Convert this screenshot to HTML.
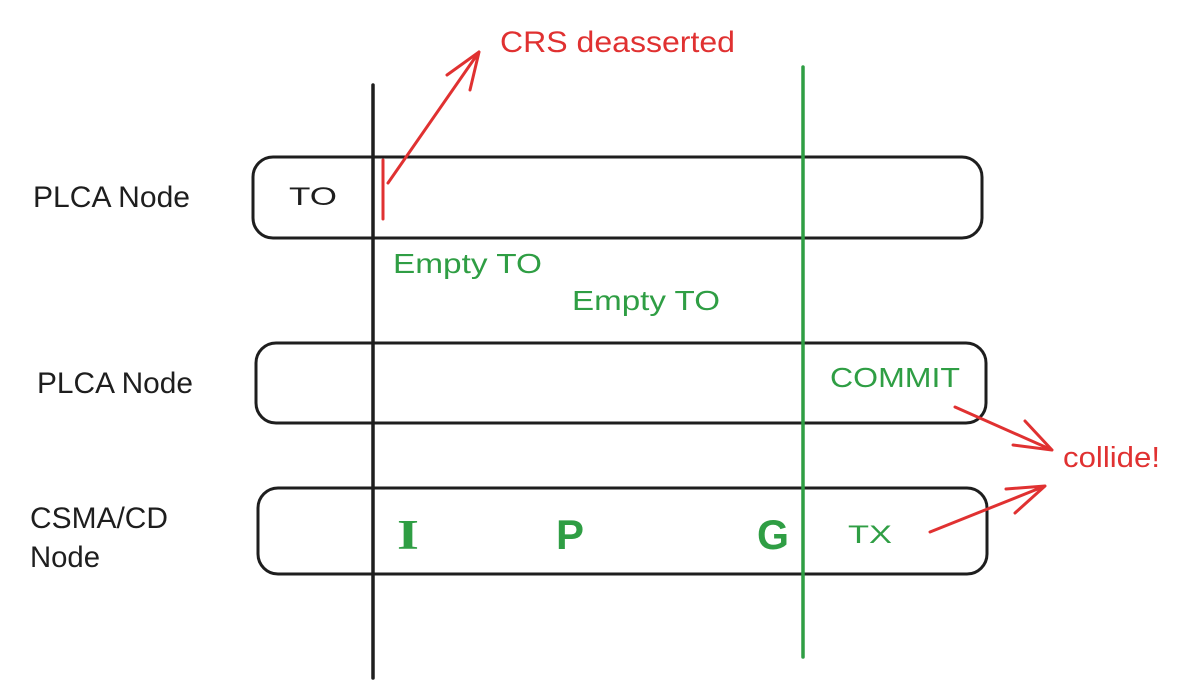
<!DOCTYPE html>
<html><head><meta charset="utf-8"><style>
html,body{margin:0;padding:0;background:#fff;}
svg{display:block;}
text{font-family:"Liberation Sans",sans-serif;}
text.serif{font-family:"Liberation Serif",serif;}
</style></head><body>
<svg width="1179" height="693" viewBox="0 0 1179 693" xmlns="http://www.w3.org/2000/svg">
<rect width="1179" height="693" fill="#fff"/>
<g fill="none" stroke="#1e1e1e" stroke-width="3" stroke-linecap="round">
<rect x="253" y="157" width="729" height="81" rx="20"/>
<rect x="256" y="343" width="730" height="80" rx="20"/>
<rect x="258" y="488" width="729" height="86" rx="20"/>
<line x1="373" y1="85" x2="373" y2="678" stroke-width="3.5"/>
</g>
<line x1="803" y1="67" x2="803" y2="657" stroke="#2f9e44" stroke-width="3.5" stroke-linecap="round"/>
<g fill="none" stroke="#e03131" stroke-width="3" stroke-linecap="round" stroke-linejoin="round">
<line x1="383" y1="160" x2="383" y2="219"/>
<path d="M388 183 L479 52 M447 75 L479 52 L470 90"/>
<path d="M955 407 L1052 450 M1025 421 L1052 450 L1013 445"/>
<path d="M930 532 L1045 486 M1006 489 L1045 486 L1015 513"/>
</g>
<g fill="#1e1e1e" font-size="30">
<text x="33" y="207" textLength="157" lengthAdjust="spacingAndGlyphs">PLCA Node</text>
<text x="37" y="393" textLength="156" lengthAdjust="spacingAndGlyphs">PLCA Node</text>
<text x="30" y="528" textLength="138" lengthAdjust="spacingAndGlyphs">CSMA/CD</text>
<text x="30" y="567" textLength="70" lengthAdjust="spacingAndGlyphs">Node</text>
<text x="289" y="205" font-size="25" textLength="48" lengthAdjust="spacingAndGlyphs">TO</text>
</g>
<g fill="#e03131" font-size="30">
<text x="500" y="52" textLength="235" lengthAdjust="spacingAndGlyphs">CRS deasserted</text>
<text x="1063" y="467" font-size="29" textLength="97" lengthAdjust="spacingAndGlyphs">collide!</text>
</g>
<g fill="#2f9e44" font-size="28">
<text x="393" y="273" textLength="149" lengthAdjust="spacingAndGlyphs">Empty TO</text>
<text x="572" y="310" textLength="148" lengthAdjust="spacingAndGlyphs">Empty TO</text>
<text x="830" y="387" textLength="130" lengthAdjust="spacingAndGlyphs">COMMIT</text>
<text x="848" y="543" font-size="25" textLength="44" lengthAdjust="spacingAndGlyphs">TX</text>
<g font-size="42" font-weight="bold">
<text class="serif" x="397" y="549" textLength="22" lengthAdjust="spacingAndGlyphs">I</text>
<text x="556" y="549" textLength="28" lengthAdjust="spacingAndGlyphs">P</text>
<text x="757" y="549" textLength="32" lengthAdjust="spacingAndGlyphs">G</text>
</g>
</g>
</svg>
</body></html>
